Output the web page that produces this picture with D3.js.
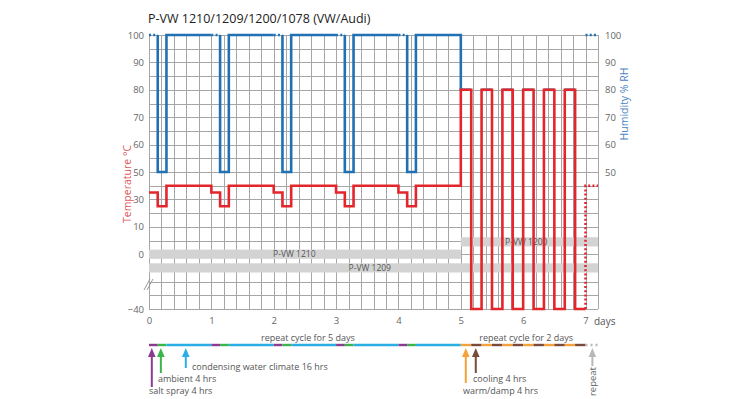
<!DOCTYPE html>
<html>
<head>
<meta charset="utf-8">
<script src="https://cdn.jsdelivr.net/npm/d3@7"></script>
<style>
  body { margin: 0; background: #fff; }
  svg { display: block; }
  text { font-family: 'Open Sans', sans-serif; }
</style>
</head>
<body>
<div id="vis"></div>
<script>

// ---- chart data ----
var title = 'P-VW 1210/1209/1200/1078 (VW/Audi)';

// start day of every phase of the test; the last phase runs to endDay
var phaseDay = [0, 0.14, 0.28, 1, 1.14, 1.28, 2, 2.14, 2.28, 3, 3.14, 3.28, 4, 4.14, 4.28,
  5, 5.167, 5.333, 5.5, 5.667, 5.833, 6, 6.167, 6.333, 6.5, 6.667, 6.833, 7];
var phaseType = ['salt', 'ambient', 'condensing', 'salt', 'ambient', 'condensing',
  'salt', 'ambient', 'condensing', 'salt', 'ambient', 'condensing',
  'salt', 'ambient', 'condensing',
  'warm', 'cool', 'warm', 'cool', 'warm', 'cool', 'warm', 'cool', 'warm', 'cool', 'warm', 'cool',
  'repeat'];
var endDay = 7.2;

// temperature (°C) and humidity (% RH) held in each phase
var tempByType = { salt: 35, ambient: 25, condensing: 40, warm: 80, cool: -40, repeat: 40 };
var rhByType = { salt: 100, ambient: 50, condensing: 100, warm: 80, cool: null, repeat: 100 };

var tempTicks = [100, 90, 80, 70, 60, 50, 30, 10, 0, -40];
var rhTicks = [100, 90, 80, 70, 60, 50];
var dayTicks = [0, 1, 2, 3, 4, 5, 6, 7];

// standards covered by the chart (days)
var bandNames = ['P-VW 1200', 'P-VW 1210', 'P-VW 1209'];
var bandStart = [5, 0, 0];
var bandEnd = [7.2, 5, 7.2];

var phaseLabels = {
  salt: 'salt spray 4 hrs',
  ambient: 'ambient 4 hrs',
  condensing: 'condensing water climate 16 hrs',
  warm: 'warm/damp 4 hrs',
  cool: 'cooling 4 hrs',
  repeat: 'repeat'
};
var cycleLabels = ['repeat cycle for 5 days', 'repeat cycle for 2 days'];
var cycleStart = [0, 5];
var cycleEnd = [5, 7];

// ---- layout / styles ----
var width = 755;
var height = 399;
var plot = { left: 149, right: 598, top: 35, bottom: 309 };
var rows = 20;
var rowH = (plot.bottom - plot.top) / rows;
var red = '#e3262b';
var blue = '#2071b3';
var phaseColor = {
  salt: '#8c3b91', ambient: '#39b54a', condensing: '#2aaee3',
  warm: '#f6a23b', cool: '#7a4a3c', repeat: '#b8b8b8'
};

function gy(i) { return plot.top + i * rowH; }

var x = d3.scaleLinear().domain([0, endDay]).range([plot.left, plot.right]);
// temperature axis is drawn schematically, in pieces
var yT = d3.scaleLinear()
  .domain([-40, 0, 10, 50, 100])
  .range([gy(20), gy(16), gy(14), gy(10), gy(0)]);
var yH = d3.scaleLinear().domain([50, 100]).range([gy(10), gy(0)]);

var svg = d3.select('#vis').append('svg')
  .attr('width', width)
  .attr('height', height);

// title
svg.append('text')
  .attr('x', 148)
  .attr('y', 23)
  .attr('font-size', 12.5)
  .attr('fill', '#222')
  .text(title);

// grid
var grid = svg.append('g').attr('stroke', '#a6a6a6').attr('stroke-width', 1);
grid.selectAll('.h')
  .data(d3.range(rows + 1))
  .join('line')
  .attr('x1', plot.left).attr('x2', plot.right)
  .attr('y1', function(d) { return Math.round(gy(d)) + 0.5; })
  .attr('y2', function(d) { return Math.round(gy(d)) + 0.5; });
grid.selectAll('.v')
  .data(d3.range(0, Math.round(endDay / 0.2) + 1))
  .join('line')
  .attr('x1', function(d) { return Math.round(x(d * 0.2)) + 0.5; })
  .attr('x2', function(d) { return Math.round(x(d * 0.2)) + 0.5; })
  .attr('y1', plot.top).attr('y2', plot.bottom);

// grey bands for the standards
var laneTemp = [4.5, 0, -10];
var labelDay = [6.05, 2.33, 3.54];
var bands = svg.append('g');
bandNames.forEach(function(name, i) {
  var cy = yT(laneTemp[i]);
  bands.append('rect')
    .attr('x', x(bandStart[i]))
    .attr('y', cy - 4.6)
    .attr('width', x(bandEnd[i]) - x(bandStart[i]))
    .attr('height', 9.2)
    .attr('fill', '#d3d3d3');
  bands.append('text')
    .attr('x', x(labelDay[i]))
    .attr('y', cy)
    .attr('dy', '0.35em')
    .attr('text-anchor', 'middle')
    .attr('font-size', 8.5)
    .attr('fill', '#555')
    .text(name);
});

// axis break mark
svg.append('g')
  .attr('stroke', '#999')
  .attr('stroke-width', 1)
  .selectAll('line')
  .data([0, 3])
  .join('line')
  .attr('x1', function(d) { return 144 + d; })
  .attr('y1', 290)
  .attr('x2', function(d) { return 150 + d; })
  .attr('y2', 279);

// ---- step series ----
// split a series into runs of the same dash style; a vertical
// takes the style of the step it leads into
function stepRuns(valueOf, dottedOf) {
  var out = [];
  var cur = null;
  phaseType.forEach(function(t, i) {
    var v = valueOf[t];
    if (v == null) { cur = null; return; }
    var s = !!dottedOf[t];
    var x0 = phaseDay[i];
    var x1 = i < phaseDay.length - 1 ? phaseDay[i + 1] : endDay;
    var prev = i > 0 ? valueOf[phaseType[i - 1]] : null;
    if (!cur || cur.dotted !== s) {
      cur = { dotted: s, pts: [] };
      out.push(cur);
      if (prev != null) cur.pts.push([x0, prev]);
    }
    cur.pts.push([x0, v], [x1, v]);
  });
  return out;
}

function drawSteps(runs, yScale, color) {
  var line = d3.line()
    .x(function(d) { return x(d[0]); })
    .y(function(d) { return yScale(d[1]); });
  svg.append('g')
    .selectAll('path')
    .data(runs)
    .join('path')
    .attr('d', function(d) { return line(d.pts); })
    .attr('fill', 'none')
    .attr('stroke', color)
    .attr('stroke-width', 2.6)
    .attr('stroke-linejoin', 'miter')
    .attr('stroke-dasharray', function(d) { return d.dotted ? '2,2.2' : null; });
}

drawSteps(stepRuns(rhByType, { salt: true, repeat: true }), yH, blue);
drawSteps(stepRuns(tempByType, { repeat: true }), yT, red);

// ---- axes ----
var axisL = svg.append('g')
  .attr('transform', 'translate(' + plot.left + ',0)')
  .call(d3.axisLeft(yT).tickValues(tempTicks).tickSize(0).tickPadding(5));
var axisR = svg.append('g')
  .attr('transform', 'translate(' + plot.right + ',0)')
  .call(d3.axisRight(yH).tickValues(rhTicks).tickSize(0).tickPadding(7));
var axisB = svg.append('g')
  .attr('transform', 'translate(0,' + plot.bottom + ')')
  .call(d3.axisBottom(x).tickValues(dayTicks).tickSize(0).tickPadding(8));
[axisL, axisR, axisB].forEach(function(a) {
  a.select('.domain').remove();
  a.selectAll('text')
    .attr('font-family', "'Open Sans', sans-serif")
    .attr('font-size', 9.5)
    .attr('fill', '#666');
});

svg.append('text')
  .attr('x', 594)
  .attr('y', 325)
  .attr('font-size', 10)
  .attr('fill', '#555')
  .text('days');

svg.append('text')
  .attr('transform', 'translate(131,184) rotate(-90)')
  .attr('text-anchor', 'middle')
  .attr('font-size', 10.5)
  .attr('fill', '#e0575b')
  .text('Temperature °C');

svg.append('text')
  .attr('transform', 'translate(628,104) rotate(-90)')
  .attr('text-anchor', 'middle')
  .attr('font-size', 10.5)
  .attr('fill', '#4a84c2')
  .text('Humidity % RH');

// ---- phase timeline ----
var lineY = 345;
var tl = svg.append('g');
phaseType.forEach(function(t, i) {
  var x1 = i < phaseDay.length - 1 ? phaseDay[i + 1] : endDay;
  tl.append('line')
    .attr('x1', x(phaseDay[i]))
    .attr('x2', x(x1))
    .attr('y1', lineY).attr('y2', lineY)
    .attr('stroke', phaseColor[t])
    .attr('stroke-width', 2.4)
    .attr('stroke-dasharray', t === 'repeat' ? '2,3' : null);
});

cycleLabels.forEach(function(label, i) {
  svg.append('text')
    .attr('x', x((cycleStart[i] + cycleEnd[i]) / 2) + 3)
    .attr('y', 341)
    .attr('text-anchor', 'middle')
    .attr('font-size', 9)
    .attr('fill', '#555')
    .text(label);
});

// arrows pointing at the first cycle of each phase
var annos = [
  { type: 'salt', day: 0.045, bottom: 387, tx: 149, ty: 394 },
  { type: 'ambient', day: 0.19, bottom: 373, tx: 158, ty: 381.5 },
  { type: 'condensing', day: 0.59, bottom: 368, tx: 192, ty: 369.5 },
  { type: 'warm', day: 5.08, bottom: 383, tx: 463, ty: 394 },
  { type: 'cool', day: 5.24, bottom: 373, tx: 473, ty: 381.5 },
  { type: 'repeat', day: 7.11, bottom: 366 }
];
var tip = 348;
annos.forEach(function(a) {
  var ax = x(a.day);
  var c = phaseColor[a.type];
  svg.append('line')
    .attr('x1', ax).attr('x2', ax)
    .attr('y1', a.bottom).attr('y2', tip + 6)
    .attr('stroke', c)
    .attr('stroke-width', 2);
  svg.append('path')
    .attr('d', 'M' + (ax - 3.8) + ',' + (tip + 9) + 'L' + ax + ',' + tip + 'L' + (ax + 3.8) + ',' + (tip + 9) + 'Z')
    .attr('fill', c);
  if (a.type === 'repeat') {
    svg.append('text')
      .attr('transform', 'translate(' + (ax + 3.5) + ',' + (a.bottom + 1) + ') rotate(-90)')
      .attr('text-anchor', 'end')
      .attr('font-size', 9.5)
      .attr('fill', '#666')
      .text(phaseLabels[a.type]);
  } else {
    svg.append('text')
      .attr('x', a.tx)
      .attr('y', a.ty)
      .attr('font-size', 9)
      .attr('fill', '#555')
      .text(phaseLabels[a.type]);
  }
});

</script>
</body>
</html>
